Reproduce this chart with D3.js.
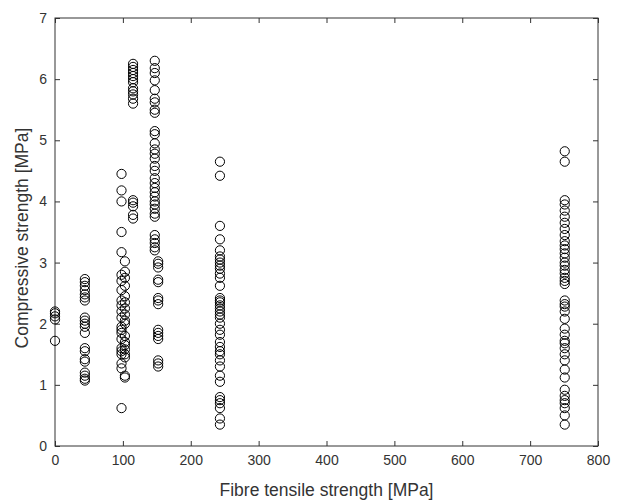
<!DOCTYPE html>
<html>
<head>
<meta charset="utf-8">
<script src="https://cdn.jsdelivr.net/npm/d3@7"></script>
<style>
  html, body { margin: 0; padding: 0; background: #fff; }
  svg { display: block; font-family: Arial, "Liberation Sans", sans-serif; }
</style>
</head>
<body>
<svg id="chart" width="630" height="501"></svg>
<script>
// ---- Data ----
const xTicks = [0, 100, 200, 300, 400, 500, 600, 700, 800];
const yTicks = [0, 1, 2, 3, 4, 5, 6, 7];
const xLabel = "Fibre tensile strength [MPa]";
const yLabel = "Compressive strength [MPa]";

// fibre tensile strength [MPa] of each group
const fibreStrength = [0, 44, 98, 103, 115, 147, 152, 243, 751];

// compressive strength [MPa] of each group
const cs0   = [2.2, 2.17, 2.12, 2.07, 1.72];
const cs44  = [2.73, 2.68, 2.62, 2.55, 2.48, 2.43, 2.38, 2.1, 2.05, 2.0, 1.95, 1.85, 1.6, 1.55, 1.42, 1.38, 1.2, 1.15, 1.1, 1.07];
const cs98  = [4.45, 4.18, 4.0, 3.5, 3.17, 2.8, 2.7, 2.55, 2.38, 2.3, 2.2, 2.1, 1.95, 1.9, 1.85, 1.75, 1.6, 1.55, 1.5, 1.35, 1.27, 0.62];
const cs103 = [3.02, 2.85, 2.75, 2.62, 2.45, 2.35, 2.25, 2.15, 2.05, 2.0, 1.8, 1.7, 1.65, 1.58, 1.5, 1.45, 1.15, 1.12];
const cs115 = [6.25, 6.2, 6.15, 6.1, 6.05, 6.0, 5.95, 5.85, 5.8, 5.75, 5.68, 5.6, 4.02, 3.98, 3.92, 3.78, 3.72];
const cs147 = [6.3, 6.18, 6.1, 5.98, 5.82, 5.68, 5.62, 5.5, 5.45, 5.15, 5.1, 4.95, 4.85, 4.78, 4.7, 4.58, 4.5, 4.38, 4.3, 4.22, 4.15, 4.08, 4.0, 3.95, 3.88, 3.8, 3.75, 3.45, 3.38, 3.32, 3.25, 3.2];
const cs152 = [3.02, 2.98, 2.92, 2.72, 2.68, 2.42, 2.38, 2.32, 1.9, 1.85, 1.8, 1.75, 1.4, 1.35, 1.3];
const cs243 = [4.65, 4.42, 3.6, 3.38, 3.2, 3.1, 3.05, 3.0, 2.95, 2.9, 2.82, 2.75, 2.62, 2.42, 2.38, 2.35, 2.3, 2.25, 2.2, 2.15, 2.1, 2.0, 1.9, 1.82, 1.7, 1.62, 1.55, 1.5, 1.4, 1.3, 1.15, 1.05, 0.8, 0.75, 0.7, 0.62, 0.45, 0.35];
const cs751 = [4.82, 4.65, 4.02, 3.95, 3.85, 3.75, 3.65, 3.55, 3.45, 3.35, 3.28, 3.22, 3.15, 3.08, 3.0, 2.95, 2.88, 2.82, 2.75, 2.7, 2.65, 2.38, 2.32, 2.28, 2.2, 2.08, 1.92, 1.82, 1.72, 1.68, 1.6, 1.5, 1.4, 1.25, 1.12, 0.92, 0.82, 0.75, 0.7, 0.62, 0.5, 0.35];

const compressive = [cs0, cs44, cs98, cs103, cs115, cs147, cs152, cs243, cs751];

// build point table
const points = [];
fibreStrength.forEach((fx, i) => compressive[i].forEach(v => points.push({ x: fx, y: v })));

// ---- Layout ----
const svg = d3.select("#chart");
const margin = { left: 55, top: 18, right: 32, bottom: 55 };
const W = 630, H = 501;
const x0 = margin.left, x1 = W - margin.right, y0 = H - margin.bottom, y1 = margin.top;
const ink = "#333333";

const x = d3.scaleLinear().domain([0, 800]).range([x0, x1]);
const y = d3.scaleLinear().domain([0, 7]).range([y0, y1]);

// frame
svg.append("rect")
  .attr("x", x0).attr("y", y1)
  .attr("width", x1 - x0).attr("height", y0 - y1)
  .attr("fill", "none").attr("stroke", ink).attr("stroke-width", 1);

const tickLen = 5;
const styleAxis = g => {
  g.select(".domain").remove();
  g.selectAll("line").attr("stroke", ink);
  g.selectAll("text").attr("fill", ink).attr("font-size", 14);
};

// bottom axis (ticks inward)
svg.append("g").attr("transform", `translate(0,${y0})`)
  .call(d3.axisBottom(x).tickValues(xTicks).tickSizeInner(-tickLen).tickSizeOuter(0).tickPadding(9).tickFormat(d3.format("d")))
  .call(styleAxis);
// top axis ticks
svg.append("g").attr("transform", `translate(0,${y1})`)
  .call(d3.axisTop(x).tickValues(xTicks).tickSizeInner(-tickLen).tickSizeOuter(0).tickFormat(""))
  .call(styleAxis);
// left axis
svg.append("g").attr("transform", `translate(${x0},0)`)
  .call(d3.axisLeft(y).tickValues(yTicks).tickSizeInner(-tickLen).tickSizeOuter(0).tickPadding(8).tickFormat(d3.format("d")))
  .call(styleAxis);
// right axis ticks
svg.append("g").attr("transform", `translate(${x1},0)`)
  .call(d3.axisRight(y).tickValues(yTicks).tickSizeInner(-tickLen).tickSizeOuter(0).tickFormat(""))
  .call(styleAxis);

// points
svg.append("g").selectAll("circle").data(points).join("circle")
  .attr("cx", d => x(d.x))
  .attr("cy", d => y(d.y))
  .attr("r", 4.6)
  .attr("fill", "none")
  .attr("stroke", "#000")
  .attr("stroke-width", 1);

// axis labels
svg.append("text")
  .attr("x", (x0 + x1) / 2).attr("y", 496)
  .attr("text-anchor", "middle").attr("font-size", 17.5).attr("fill", ink)
  .text(xLabel);
svg.append("text")
  .attr("transform", `translate(28,${(y0 + y1) / 2 + 6}) rotate(-90)`)
  .attr("text-anchor", "middle").attr("font-size", 17.5).attr("fill", ink)
  .text(yLabel);
</script>
</body>
</html>
